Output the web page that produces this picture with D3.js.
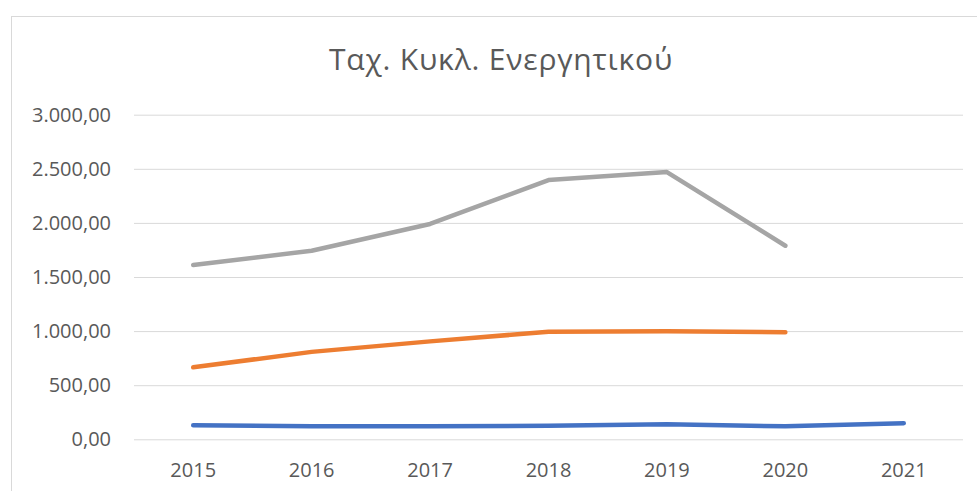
<!DOCTYPE html>
<html>
<head>
<meta charset="utf-8">
<script src="https://cdn.jsdelivr.net/npm/d3@7"></script>
<style>
  body { margin: 0; background: #fff; }
  text { font-family: "Open Sans", sans-serif; fill: #595959; }
</style>
</head>
<body>
<div id="chart-area"></div>
<script>
var years = ["2015", "2016", "2017", "2018", "2019", "2020", "2021"];
var greyValues = [1611, 1743, 1990, 2396, 2470, 1789, null];
var orangeValues = [665, 808, 905, 994, 998, 989, null];
var blueValues = [130, 120, 120, 125, 140, 120, 148];
var yTicks = [0, 500, 1000, 1500, 2000, 2500, 3000];
var title = "Ταχ. Κυκλ. Ενεργητικού";

var width = 977, height = 491;
var margin = {top: 115, right: 14, bottom: 52, left: 134};

var svg = d3.select("#chart-area").append("svg")
	.attr("width", width)
	.attr("height", height);

// chart frame (only top/left visible in the picture)
svg.append("rect")
	.attr("x", 11.5).attr("y", 16.5)
	.attr("width", width + 20).attr("height", height + 20)
	.attr("fill", "none")
	.attr("stroke", "#d9d9d9");

svg.append("text")
	.attr("x", 501)
	.attr("y", 70)
	.attr("text-anchor", "middle")
	.attr("font-size", "30px")
	.attr("letter-spacing", "0.8px")
	.text(title);

var x = d3.scaleBand()
	.domain(years)
	.range([margin.left, width - margin.right]);

var y = d3.scaleLinear()
	.domain([0, 3000])
	.range([439.3, 114.7]);

var fmt = function(d) {
	return d3.format(",.2f")(d).replace(/,/g, "#").replace(".", ",").replace(/#/g, ".");
};

var yAxis = d3.axisLeft(y).tickValues(yTicks).tickSize(-(width - margin.right - margin.left)).tickFormat(fmt);
var gy = svg.append("g")
	.attr("transform", "translate(" + margin.left + ",0)")
	.call(yAxis);
gy.select(".domain").remove();
gy.selectAll("line").attr("stroke", "#d9d9d9").attr("stroke-width", 1);
gy.selectAll("text")
	.attr("x", -23)
	.attr("font-size", "20px")
	.attr("fill", "#595959");

var xAxis = d3.axisBottom(x).tickSize(0);
var gx = svg.append("g")
	.attr("transform", "translate(0," + y(0) + ")")
	.call(xAxis);
gx.select(".domain").remove();
gx.selectAll("text")
	.attr("y", 24)
	.attr("font-size", "20px")
	.attr("fill", "#595959");

var line = d3.line()
	.defined(function(d) { return d != null; })
	.x(function(d, i) { return x(years[i]) + x.bandwidth() / 2; })
	.y(function(d) { return y(d); });

var series = [
	{values: blueValues, color: "#4472C4"},
	{values: orangeValues, color: "#ED7D31"},
	{values: greyValues, color: "#A5A5A5"}
];

series.forEach(function(s) {
	svg.append("path")
		.datum(s.values)
		.attr("fill", "none")
		.attr("stroke", s.color)
		.attr("stroke-width", 4.5)
		.attr("stroke-linecap", "round")
		.attr("stroke-linejoin", "round")
		.attr("d", line);
});
</script>
</body>
</html>
